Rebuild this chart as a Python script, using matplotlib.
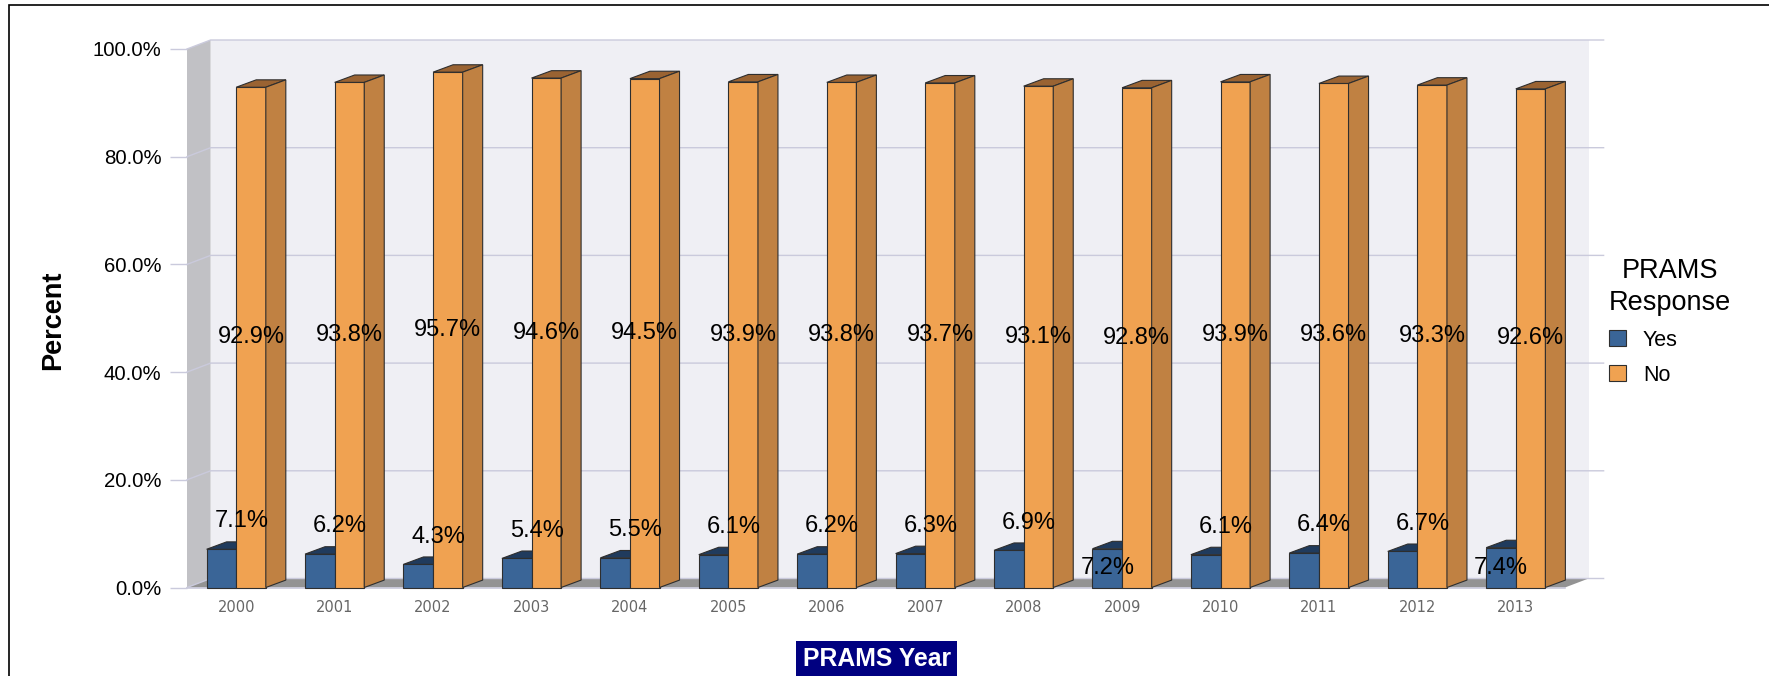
import matplotlib
matplotlib.use('Agg')
import matplotlib.pyplot as plt
from matplotlib.patches import Polygon, Rectangle, Patch

# data
years = ['2000', '2001', '2002', '2003', '2004', '2005', '2006',
         '2007', '2008', '2009', '2010', '2011', '2012', '2013']
yes_pct = [7.1, 6.2, 4.3, 5.4, 5.5, 6.1, 6.2, 6.3, 6.9, 7.2, 6.1, 6.4, 6.7, 7.4]
no_pct = [92.9, 93.8, 95.7, 94.6, 94.5, 93.9, 93.8, 93.7, 93.1, 92.8, 93.9, 93.6, 93.3, 92.6]
y_ticks = [0, 20, 40, 60, 80, 100]
series_names = ['Yes', 'No']
legend_title = 'PRAMS\nResponse'
x_title = 'PRAMS Year'
y_title = 'Percent'

plt.rcParams['font.family'] = ['Liberation Sans', 'DejaVu Sans']

#colours
yes_front, yes_top = '#3a6597', '#203b5d'
no_front, no_side, no_top = '#f0a251', '#c08142', '#9a6332'
edge_c = '#2e2e2e'
grid_c = '#cacadc'
back_c, wall_c, floor_c = '#efeff4', '#c1c1c5', '#939393'

W, H = 1769, 676
fig = plt.figure(figsize=(W / 100, H / 100), dpi=100)

#front plane of the 3d box in pixels
left_px, right_px, base_px, top_px = 187, 1565, 587.5, 49
ax = fig.add_axes([left_px / W, (H - base_px) / H,
                   (right_px - left_px) / W, (base_px - top_px) / H])
n = len(years)
x0, x1 = -0.5, n - 0.5
ax.set_xlim(x0, x1)
ax.set_ylim(0, 100)
ax.patch.set_visible(False)
for s in ax.spines.values():
    s.set_visible(False)

#pixel sizes -> data units
ux = (right_px - left_px) / n
uy = (base_px - top_px) / 100
wall_dx, wall_dy = 23.6 / ux, 9 / uy
bar_dx, bar_dy = 20 / ux, 7.4 / uy
bar_w = 29.6 / ux
grid_ext = 15 / ux

#walls and floor
ax.add_patch(Rectangle((x0 + wall_dx, wall_dy), x1 - x0, 100, fc=back_c, ec='none',
                       zorder=0.5, clip_on=False))
ax.add_patch(Polygon([(x0, 0), (x0, 100), (x0 + wall_dx, 100 + wall_dy), (x0 + wall_dx, wall_dy)],
                     closed=True, fc=wall_c, ec='none', zorder=0.5, clip_on=False))
ax.add_patch(Polygon([(x0, 0), (x1, 0), (x1 + wall_dx, wall_dy), (x0 + wall_dx, wall_dy)],
                     closed=True, fc=floor_c, ec='none', zorder=0.6, clip_on=False))

#grid lines running over the left wall and the back wall
for t in y_ticks:
    ax.plot([x0, x0 + wall_dx, x1 + wall_dx + grid_ext], [t, t + wall_dy, t + wall_dy],
            color=grid_c, lw=1, zorder=0.8, clip_on=False)
ax.plot([x0, x1], [0, 0], color=grid_c, lw=1.2, zorder=0.9, clip_on=False)


def box(ax, xl, w, h, front, side, top, z):
    ax.add_patch(Rectangle((xl, 0), w, h, fc=front, ec=edge_c, lw=0.8, zorder=z, clip_on=False))
    ax.add_patch(Polygon([(xl, h), (xl + w, h), (xl + w + bar_dx, h + bar_dy), (xl + bar_dx, h + bar_dy)],
                         closed=True, fc=top, ec=edge_c, lw=0.8, zorder=z, clip_on=False))
    if side is not None:
        ax.add_patch(Polygon([(xl + w, 0), (xl + w + bar_dx, bar_dy), (xl + w + bar_dx, h + bar_dy), (xl + w, h)],
                             closed=True, fc=side, ec=edge_c, lw=0.8, zorder=z, clip_on=False))


for i in range(n):
    box(ax, i - bar_w, bar_w, yes_pct[i], yes_front, None, yes_top, 2 + i * 0.01)
    box(ax, i, bar_w, no_pct[i], no_front, no_side, no_top, 3 + i * 0.01)

#value labels
for i in range(n):
    ax.text(i + bar_w / 2, no_pct[i] / 2, f'{no_pct[i]:.1f}%', ha='center', va='center',
            fontsize=17, zorder=6)
    if yes_pct[i] >= 7.2:
        ax.text(i - bar_w / 2, yes_pct[i] / 2, f'{yes_pct[i]:.1f}%', ha='center', va='center',
                fontsize=17, zorder=6)
    else:
        ax.annotate(f'{yes_pct[i]:.1f}%', xy=(i - bar_w / 2 + bar_dx, yes_pct[i] + bar_dy),
                    xytext=(0, 14.7), textcoords='offset points', ha='center', va='center',
                    fontsize=17, zorder=6, annotation_clip=False)

#axes ticks
ax.set_yticks(y_ticks, [f'{t:.1f}%' for t in y_ticks])
ax.tick_params(axis='y', length=12.2, width=1, color=grid_c, pad=6.2, labelsize=14.7)
ax.set_xticks(range(n), years)
ax.tick_params(axis='x', length=0, pad=9, labelsize=10.5, labelcolor='#666666')
for lbl in ax.get_xticklabels():
    lbl.set_fontfamily('DejaVu Sans')

#axis titles
ax.set_ylabel(y_title, fontsize=19.5, fontweight='bold', ha='center', va='center')
ax.yaxis.set_label_coords((53 - left_px) / (right_px - left_px), (base_px - 320) / (base_px - top_px))
ax.set_xlabel(x_title, fontsize=17.8, fontweight='bold', color='white', va='center',
              bbox=dict(boxstyle='square,pad=0.25', fc='#000080', ec='none'))
ax.xaxis.set_label_coords((876.5 - left_px) / (right_px - left_px), (base_px - 659) / (base_px - top_px))

#legend
handles = [Patch(fc=yes_front, ec=edge_c, lw=0.8), Patch(fc=no_front, ec=edge_c, lw=0.8)]
leg = ax.legend(handles, series_names, title=legend_title, loc='upper left',
                bbox_to_anchor=(1609 / W, 1 - 258 / H), bbox_transform=fig.transFigure,
                frameon=False, fontsize=15.5, title_fontsize=19.5, handlelength=0.78,
                handleheight=0.78, handletextpad=0.8, labelspacing=0.64, borderpad=0,
                borderaxespad=0, alignment='left')
leg.get_title().set_multialignment('center')
leg.get_title().set_linespacing(1.3)

#outer frame (only left and top edges fall inside the picture)
fig.add_artist(Rectangle((9 / W, -0.1), 1.2, 1.1 - 5 / H, transform=fig.transFigure,
                         fill=False, ec='black', lw=1.2))

fig.savefig('out.png', dpi=100)
